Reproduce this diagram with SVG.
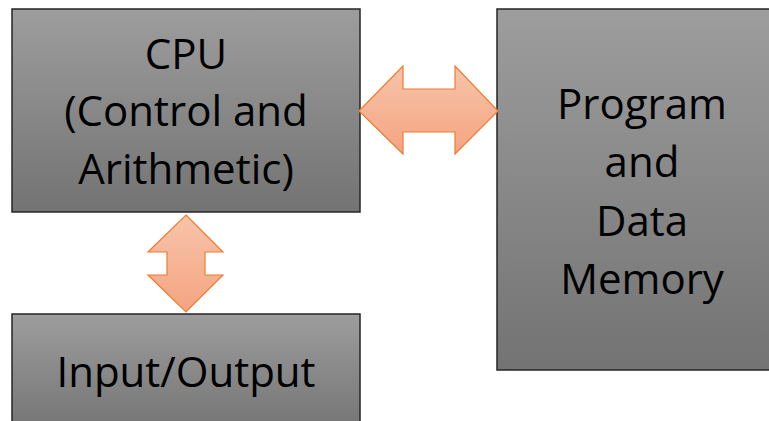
<svg xmlns="http://www.w3.org/2000/svg" width="769" height="421" viewBox="0 0 769 421">
<defs>
<linearGradient id="boxg" x1="0" y1="0" x2="0" y2="1">
<stop offset="0" stop-color="#9d9d9d"/>
<stop offset="1" stop-color="#737373"/>
</linearGradient>
<linearGradient id="arrg" x1="0" y1="0" x2="0" y2="1">
<stop offset="0" stop-color="#f8c4aa"/>
<stop offset="1" stop-color="#f4a481"/>
</linearGradient>
<style>
.box{fill:url(#boxg);stroke:#262626;stroke-width:1.5}
.arr{fill:url(#arrg);stroke:#ed7d31;stroke-width:1.2;stroke-linejoin:miter}
.t{font-family:"Open Sans","Liberation Sans",sans-serif;font-size:42px;fill:#000;text-anchor:middle}
</style>
</defs>
<rect width="769" height="421" fill="#fff"/>
<g id="cpu">
<rect class="box" x="12" y="9" width="348" height="203"/>
<text class="t" x="186" y="69">CPU</text>
<text class="t" x="186" y="126">(Control and</text>
<text class="t" x="186" y="184">Arithmetic)</text>
</g>
<g id="memory">
<rect class="box" x="497" y="9" width="300" height="361"/>
<text class="t" x="642" y="119">Program</text>
<text class="t" x="642" y="177">and</text>
<text class="t" x="642" y="236">Data</text>
<text class="t" x="642" y="294">Memory</text>
</g>
<g id="io">
<rect class="box" x="12" y="314" width="348" height="120"/>
<text class="t" x="186" y="387">Input/Output</text>
</g>
<g id="connectors">
<polygon class="arr" points="359,111 403,66 403,89 455,89 455,66 498,111 455,154 455,132 403,132 403,154"/>
<polygon class="arr" points="186,215 223,252 205,252 205,275 223,275 186,312 148,275 167,275 167,252 148,252"/>
</g>
</svg>
